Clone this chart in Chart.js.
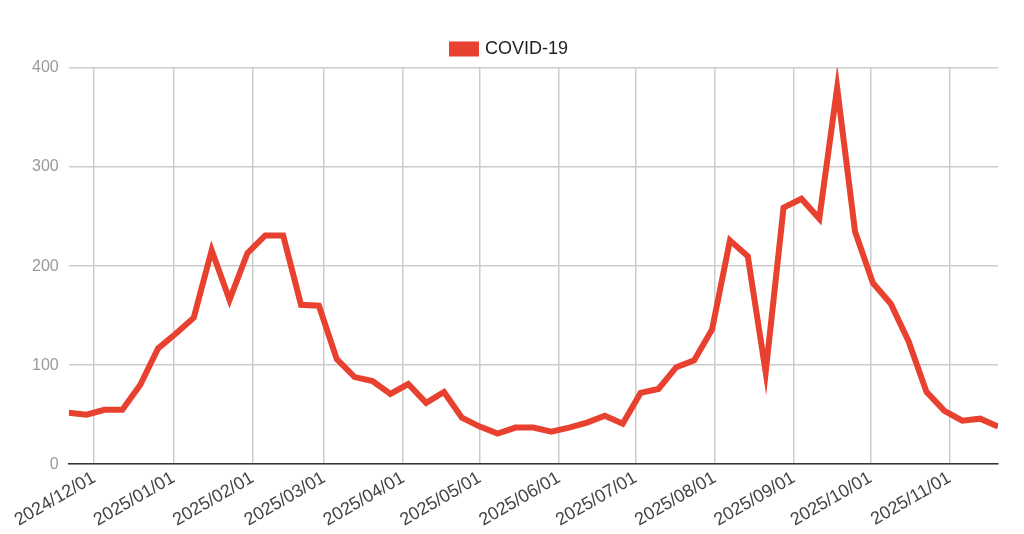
<!DOCTYPE html>
<html><head><meta charset="utf-8">
<script src="https://cdn.jsdelivr.net/npm/chart.js@4"></script>
<style>html,body{margin:0;padding:0;background:#fff}#w{width:1024px;height:534px}</style>
</head><body><div id="w"><canvas id="c"></canvas></div>
<script>
const startDate = "2024-11-21";
const values = [52,50,55,55,80,117,132,148,216,166,213,231,231,161,160,106,88,84,71,81,62,73,47,38,31,37,37,33,37,42,49,41,72,76,98,105,136,226,210,93,259,268,248,380,235,183,162,124,73,54,44,46,38];
const monthTicks = ["2024/12/01","2025/01/01","2025/02/01","2025/03/01","2025/04/01","2025/05/01","2025/06/01","2025/07/01","2025/08/01","2025/09/01","2025/10/01","2025/11/01"];
const yTicks = [0,100,200,300,400];
const seriesName = "COVID-19";

const DAY = 86400000;
const t0 = Date.parse(startDate+"T00:00:00Z");
const dayOf = s => Math.round((Date.parse(s.replace(/\//g,"-")+"T00:00:00Z")-t0)/DAY);
const tickDays = monthTicks.map(dayOf);
const pts = values.map((v,i)=>({x:i*7,y:v}));

new Chart(document.getElementById('c'),{
  type:'line',
  data:{datasets:[{label:seriesName,data:pts,borderColor:'#e8412f',backgroundColor:'#e8412f',borderWidth:6,pointRadius:0,tension:0}]},
  options:{
    responsive:true,maintainAspectRatio:false,animation:false,
    layout:{padding:{left:22,right:26,top:14,bottom:0}},
    plugins:{legend:{position:'top',labels:{boxWidth:24,boxHeight:9,color:'#222',font:{family:'Liberation Sans, Arial',size:18},padding:26}},tooltip:{enabled:false}},
    scales:{
      x:{type:'linear',min:0,max:(values.length-1)*7,
        afterBuildTicks:ax=>{ax.ticks=tickDays.map(v=>({value:v}));},
        ticks:{autoSkip:false,minRotation:30,maxRotation:30,color:'#444',font:{family:'Liberation Sans, Arial',size:18},
          callback:v=>{const i=tickDays.indexOf(v);return i>=0?monthTicks[i]:'';}},
        grid:{color:'#cccccc',lineWidth:1.5,drawTicks:false},border:{color:'#333',width:1.5}},
      y:{min:0,max:400,afterBuildTicks:ax=>{ax.ticks=yTicks.map(v=>({value:v}));},
        ticks:{color:'#999',padding:10,font:{family:'Liberation Sans, Arial',size:16}},
        grid:{color:'#cccccc',lineWidth:1.5,drawTicks:false},border:{display:false}}
    }
  }
});
</script></body></html>
